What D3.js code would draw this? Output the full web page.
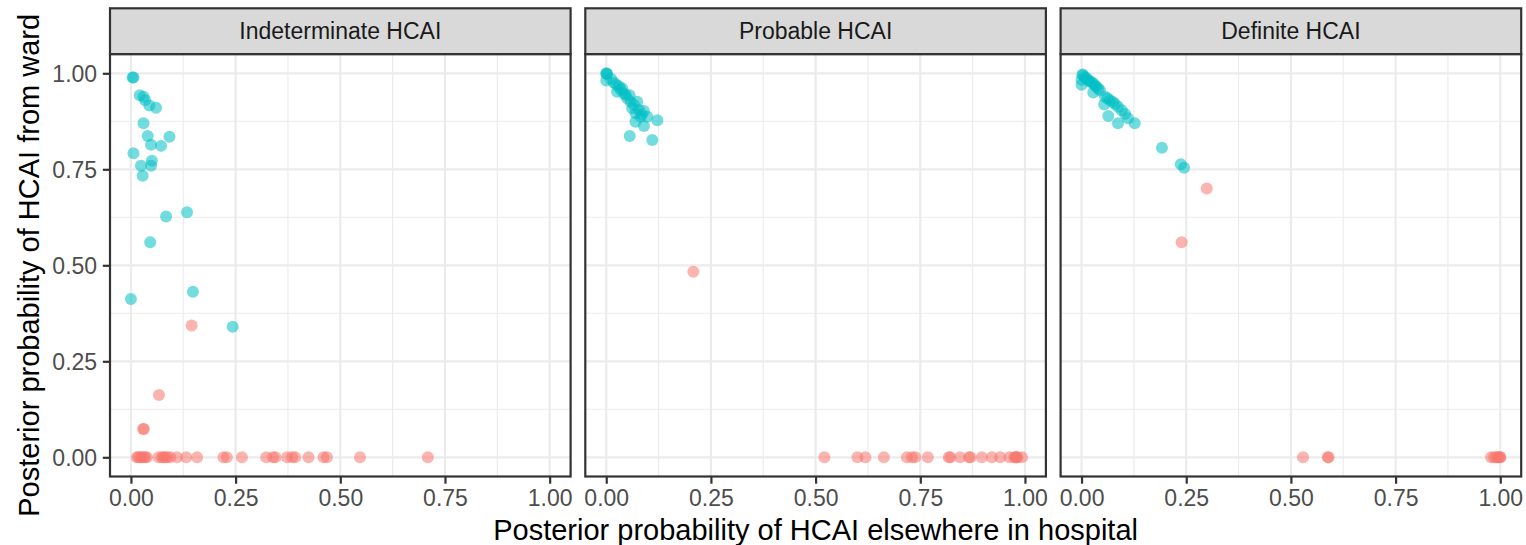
<!DOCTYPE html>
<html>
<head>
<meta charset="utf-8">
<script src="https://cdn.jsdelivr.net/npm/d3@7"></script>
<style>
  html, body { margin: 0; padding: 0; background: #fff; }
  svg { display: block; font-family: "Liberation Sans", Arial, Helvetica, sans-serif; }
</style>
</head>
<body>
<svg id="chart" width="1526" height="545"></svg>
<script>
// ---- Data ----
const panels = ["Indeterminate HCAI", "Probable HCAI", "Definite HCAI"];
const tickValues = [0, 0.25, 0.5, 0.75, 1];
const tickLabels = ["0.00", "0.25", "0.50", "0.75", "1.00"];
const minorValues = [0.125, 0.375, 0.625, 0.875];
const xTitle = "Posterior probability of HCAI elsewhere in hospital";
const yTitle = "Posterior probability of HCAI from ward";

// Indeterminate HCAI
const indetWardX = [0.004,0.006,0.021,0.030,0.034,0.044,0.060,0.030,0.040,0.092,0.048,0.072,0.006,0.050,0.024,0.048,0.028,0.084,0.134,0.046,0.000,0.148,0.243];
const indetWardY = [0.989,0.989,0.943,0.939,0.930,0.916,0.910,0.870,0.837,0.835,0.814,0.811,0.792,0.772,0.759,0.759,0.733,0.627,0.638,0.560,0.412,0.431,0.340];
const indetElseX = [0.145,0.067,0.029,0.031,0.014,0.018,0.022,0.026,0.030,0.034,0.038,0.066,0.074,0.078,0.082,0.087,0.094,0.110,0.132,0.158,0.221,0.229,0.265,0.323,0.339,0.345,0.373,0.385,0.392,0.424,0.460,0.468,0.547,0.709];
const indetElseY = [0.343,0.162,0.074,0.074,0,0,0,0,0,0,0,0,0,0,0,0,0,0,0,0,0,0,0,0,0,0,0,0,0,0,0,0,0,0];

// Probable HCAI
const probWardX = [0.000,0.001,0.002,0.000,0.018,0.030,0.026,0.038,0.042,0.056,0.058,0.074,0.062,0.070,0.090,0.082,0.098,0.070,0.090,0.122,0.056,0.110,0.012,0.024,0.034,0.046,0.050,0.066,0.078,0.085];
const probWardY = [1.000,0.999,0.998,0.981,0.976,0.966,0.952,0.961,0.948,0.943,0.926,0.926,0.909,0.896,0.902,0.887,0.887,0.874,0.863,0.878,0.837,0.826,0.985,0.970,0.958,0.944,0.935,0.918,0.905,0.893];
const probElseX = [0.208,0.521,0.600,0.619,0.663,0.718,0.730,0.738,0.768,0.818,0.822,0.845,0.866,0.870,0.897,0.921,0.941,0.963,0.975,0.978,0.980,0.982,0.993];
const probElseY = [0.483,0,0,0,0,0,0,0,0,0,0,0,0,0,0,0,0,0,0,0,0,0,0];

// Definite HCAI
const defWardX = [0.002,0.004,0.000,0.000,0.012,0.019,0.028,0.036,0.044,0.028,0.056,0.068,0.054,0.075,0.087,0.096,0.104,0.064,0.087,0.111,0.127,0.192,0.237,0.245,0.008,0.016,0.024,0.032,0.040,0.062,0.080];
const defWardY = [0.997,0.995,0.983,0.970,0.987,0.980,0.974,0.965,0.956,0.950,0.939,0.930,0.919,0.925,0.913,0.904,0.894,0.889,0.870,0.883,0.870,0.806,0.763,0.754,0.990,0.982,0.976,0.968,0.960,0.935,0.920];
const defElseX = [0.299,0.239,0.529,0.588,0.590,0.978,0.985,0.990,0.994,0.997,1.000,1.000];
const defElseY = [0.700,0.560,0,0,0,0,0,0,0,0,0,0];

const wardX = [indetWardX, probWardX, defWardX];
const wardY = [indetWardY, probWardY, defWardY];
const elseX = [indetElseX, probElseX, defElseX];
const elseY = [indetElseY, probElseY, defElseY];

// ---- Layout ----
const colWard = "#00BFC4", colElse = "#F8766D";
const panelW = 460.6, panelStep = 475.3, firstLeft = 110;
const stripTop = 8.3, panelTop = 54.1, panelBottom = 476.5;
const pointR = 6, pointAlpha = 0.55;

const svg = d3.select("#chart");

const y = d3.scaleLinear().domain([-0.05, 1.05]).range([panelBottom, panelTop]);

panels.forEach((name, i) => {
  const left = firstLeft + i * panelStep;
  const x = d3.scaleLinear().domain([-0.05, 1.05]).range([left, left + panelW]);
  const g = svg.append("g");

  // background
  g.append("rect").attr("x", left).attr("y", panelTop).attr("width", panelW)
    .attr("height", panelBottom - panelTop).attr("fill", "#fff");

  // minor grid
  minorValues.forEach(v => {
    g.append("line").attr("x1", x(v)).attr("x2", x(v)).attr("y1", panelTop).attr("y2", panelBottom)
      .attr("stroke", "#EBEBEB").attr("stroke-width", 1.1);
    g.append("line").attr("x1", left).attr("x2", left + panelW).attr("y1", y(v)).attr("y2", y(v))
      .attr("stroke", "#EBEBEB").attr("stroke-width", 1.1);
  });
  // major grid
  tickValues.forEach(v => {
    g.append("line").attr("x1", x(v)).attr("x2", x(v)).attr("y1", panelTop).attr("y2", panelBottom)
      .attr("stroke", "#EBEBEB").attr("stroke-width", 2.2);
    g.append("line").attr("x1", left).attr("x2", left + panelW).attr("y1", y(v)).attr("y2", y(v))
      .attr("stroke", "#EBEBEB").attr("stroke-width", 2.2);
  });

  // points: elsewhere (red) then ward (teal)
  const redPts = elseX[i].map((v, k) => [v, elseY[i][k]]);
  const tealPts = wardX[i].map((v, k) => [v, wardY[i][k]]);
  g.append("g").selectAll("circle").data(redPts).join("circle")
    .attr("cx", d => x(d[0])).attr("cy", d => y(d[1])).attr("r", pointR)
    .attr("fill", colElse).attr("fill-opacity", pointAlpha);
  g.append("g").selectAll("circle").data(tealPts).join("circle")
    .attr("cx", d => x(d[0])).attr("cy", d => y(d[1])).attr("r", pointR)
    .attr("fill", colWard).attr("fill-opacity", pointAlpha);

  // panel border
  g.append("rect").attr("x", left).attr("y", panelTop).attr("width", panelW)
    .attr("height", panelBottom - panelTop).attr("fill", "none")
    .attr("stroke", "#333333").attr("stroke-width", 2.2);

  // strip
  g.append("rect").attr("x", left).attr("y", stripTop).attr("width", panelW)
    .attr("height", panelTop - stripTop).attr("fill", "#D9D9D9")
    .attr("stroke", "#333333").attr("stroke-width", 2.2);
  g.append("text").attr("x", left + panelW / 2).attr("y", (stripTop + panelTop) / 2 + 8.2)
    .attr("text-anchor", "middle").attr("font-size", 23).attr("fill", "#1A1A1A").text(name);

  // x axis
  const xAxis = d3.axisBottom(x).tickValues(tickValues)
    .tickFormat((d, k) => tickLabels[k]).tickSize(7.2).tickPadding(5.7);
  const ax = g.append("g").attr("transform", `translate(0,${panelBottom})`).call(xAxis);
  ax.select(".domain").remove();
  ax.selectAll(".tick line").attr("stroke", "#333333").attr("stroke-width", 2.2);
  ax.selectAll(".tick text").attr("font-size", 23).attr("fill", "#4D4D4D")
    .attr("font-family", "Liberation Sans, Arial, sans-serif").attr("dy", "0.73em");

  // y axis (first panel only)
  if (i === 0) {
    const yAxis = d3.axisLeft(y).tickValues(tickValues)
      .tickFormat((d, k) => tickLabels[k]).tickSize(7.2).tickPadding(5.7);
    const ay = g.append("g").attr("transform", `translate(${left},0)`).call(yAxis);
    ay.select(".domain").remove();
    ay.selectAll(".tick line").attr("stroke", "#333333").attr("stroke-width", 2.2);
    ay.selectAll(".tick text").attr("font-size", 23).attr("fill", "#4D4D4D")
      .attr("font-family", "Liberation Sans, Arial, sans-serif").attr("dy", "0.36em");
  }
});

// axis titles
const plotCenterX = (firstLeft + firstLeft + 2 * panelStep + panelW) / 2;
svg.append("text").attr("x", plotCenterX).attr("y", 539.5).attr("text-anchor", "middle")
  .attr("font-size", 29).attr("fill", "#000").text(xTitle);
svg.append("text").attr("transform", `translate(39,${(panelTop + panelBottom) / 2}) rotate(-90)`)
  .attr("text-anchor", "middle").attr("font-size", 29).attr("fill", "#000").text(yTitle);
</script>
</body>
</html>
